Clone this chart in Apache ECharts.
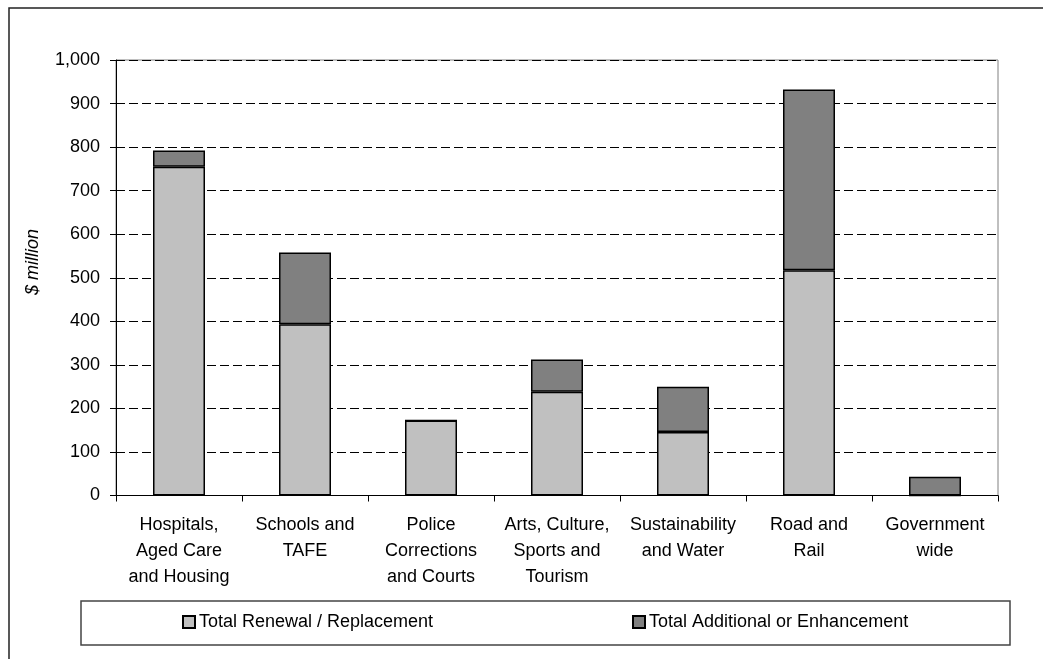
<!DOCTYPE html>
<html>
<head>
<meta charset="utf-8">
<script src="https://cdn.jsdelivr.net/npm/echarts@6/dist/echarts.min.js"></script>
<style>html,body{margin:0;padding:0;background:#fff}#c{width:1043px;height:659px}</style>
</head>
<body>
<div id="c"></div>
<script>
var categories = ['Hospitals,\nAged Care\nand Housing', 'Schools and\nTAFE', 'Police\nCorrections\nand Courts', 'Arts, Culture,\nSports and\nTourism', 'Sustainability\nand Water', 'Road and\nRail', 'Government\nwide'];
var renewal = [755, 393, 172, 238, 146, 517, 0];
var additional = [37, 165, 0, 74, 104, 415, 43];
var yTicks = {min: 0, max: 1000, interval: 100};
var seriesNames = ['Total Renewal / Replacement', 'Total Additional or Enhancement'];

var FONT = '"Liberation Sans", Arial, sans-serif';
var chart = echarts.init(document.getElementById('c'));
chart.setOption({
  animation: false,
  backgroundColor: '#fff',
  grid: {left: 116, right: 45, top: 60, bottom: 163.5, show: true, borderColor: '#808080', borderWidth: 1},
  legend: [
    {data: [seriesNames[0]], left: 177, top: 608, itemWidth: 12, itemHeight: 12, itemGap: 5,
     textStyle: {fontFamily: FONT, fontSize: 18, color: '#000', padding: [0,0,0,-1]}, icon: 'rect'},
    {data: [seriesNames[1]], left: 627, top: 608, itemWidth: 12, itemHeight: 12, itemGap: 5,
     textStyle: {fontFamily: FONT, fontSize: 18, color: '#000', padding: [0,0,0,-1]}, icon: 'rect'}
  ],
  graphic: [
    {type: 'rect', shape: {x: 9, y: 8, width: 1100, height: 700}, style: {fill: 'none', stroke: '#222', lineWidth: 1.5}, z: -1},
    {type: 'rect', shape: {x: 81, y: 601, width: 929, height: 44}, style: {fill: 'none', stroke: '#444', lineWidth: 1.5}},
    {type: 'text', x: 33, y: 262, rotation: Math.PI / 2,
     style: {text: '$ million', fontFamily: FONT, fontSize: 18, fontStyle: 'italic', fill: '#000', align: 'center', verticalAlign: 'middle'}}
  ],
  xAxis: {
    type: 'category', data: categories,
    axisLine: {lineStyle: {color: '#000', width: 1}},
    axisTick: {show: true, length: 6, alignWithLabel: false, lineStyle: {color: '#000'}},
    axisLabel: {interval: 0, margin: 17, fontFamily: FONT, fontSize: 18, lineHeight: 26, color: '#000'}
  },
  yAxis: {
    type: 'value', min: yTicks.min, max: yTicks.max, interval: yTicks.interval,
    axisLine: {show: true, lineStyle: {color: '#000', width: 1}},
    axisTick: {show: true, length: 6, lineStyle: {color: '#000'}},
    axisLabel: {margin: 16, fontFamily: FONT, fontSize: 18, color: '#000',
      formatter: function (v) { return v.toLocaleString('en-US'); }},
    splitLine: {show: true, lineStyle: {color: '#000', type: [9, 4], width: 1}}
  },
  series: [
    {name: seriesNames[0], type: 'bar', stack: 'a', data: renewal, barWidth: 52,
     itemStyle: {color: '#C0C0C0', borderColor: '#000', borderWidth: 1.5}},
    {name: seriesNames[1], type: 'bar', stack: 'a', data: additional, barWidth: 52,
     itemStyle: {color: '#808080', borderColor: '#000', borderWidth: 1.5}}
  ]
});
</script>
</body>
</html>
